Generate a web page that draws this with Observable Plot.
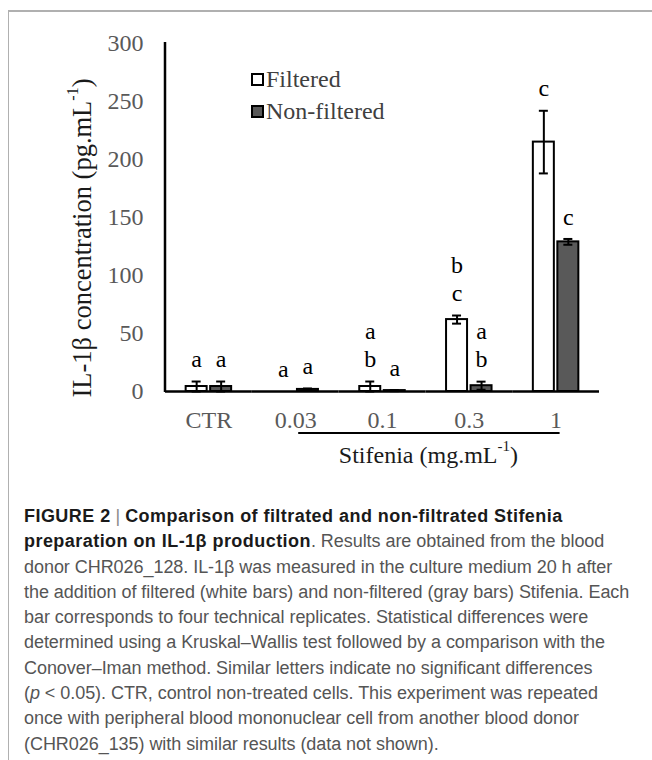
<!DOCTYPE html>
<html>
<head>
<meta charset="utf-8">
<script src="https://cdn.jsdelivr.net/npm/d3@7"></script>
<script src="https://cdn.jsdelivr.net/npm/@observablehq/plot@0.6"></script>
<style>
  html, body { margin: 0; padding: 0; background: #fff; }
  body { width: 652px; height: 760px; position: relative; overflow: hidden; }
  #frame { position: absolute; left: 8px; top: 10px; width: 700px; height: 800px;
           border-top: 2px solid #b0b0b0; border-left: 1.5px solid #b0b0b0; }
  #chart { position: absolute; left: 0; top: 0; }
  .legend { position: absolute; font-family: "Liberation Serif", "Times New Roman", serif;
            font-size: 24px; color: #404040; line-height: 1; white-space: nowrap; }
  .legend .sw { position: absolute; left: 0; width: 9px; height: 9px; border: 2px solid #000; }
  .legend span.t { position: absolute; left: 15px; top: -6px; }
  #caption { position: absolute; left: 24px; top: 504px; font-family: "Liberation Sans", Arial, sans-serif;
             font-size: 18px; line-height: 25.3px; color: #555; white-space: nowrap; letter-spacing: -0.05px; }
  #caption b { color: #1a1a1a; font-weight: bold; letter-spacing: 0.45px; }
  #caption .bar { color: #888; font-weight: normal; }
</style>
</head>
<body>
<div id="frame"></div>
<div id="chart"></div>
<div class="legend" style="left:251px; top:73px;"><div class="sw" style="background:#fff; top:0;"></div><span class="t">Filtered</span></div>
<div class="legend" style="left:251px; top:105px;"><div class="sw" style="background:#595959; top:0;"></div><span class="t">Non-filtered</span></div>
<div id="caption">
<div><b>FIGURE 2</b> <span class="bar">|</span> <b>Comparison of filtrated and non-filtrated Stifenia</b></div>
<div><b>preparation on IL-1β production</b>. Results are obtained from the blood</div>
<div>donor CHR026_128. IL-1β was measured in the culture medium 20 h after</div>
<div>the addition of filtered (white bars) and non-filtered (gray bars) Stifenia. Each</div>
<div>bar corresponds to four technical replicates. Statistical differences were</div>
<div>determined using a Kruskal–Wallis test followed by a comparison with the</div>
<div>Conover–Iman method. Similar letters indicate no significant differences</div>
<div>(<i>p</i> &lt; 0.05). CTR, control non-treated cells. This experiment was repeated</div>
<div>once with peripheral blood mononuclear cell from another blood donor</div>
<div>(CHR026_135) with similar results (data not shown).</div>
</div>
<script>
// ---- data ----
const categories = ["CTR", "0.03", "0.1", "0.3", "1"];
const seriesNames = ["Filtered", "Non-filtered"];
const filteredMean = [4.3, 0, 4.3, 62, 215];
const filteredErr = [4.3, 0, 4.3, 3.5, 27];
const nonFilteredMean = [4.3, 1.8, 0.8, 5, 129];
const nonFilteredErr = [4.3, 0.8, 0.5, 3.5, 2.5];
const filteredLetters = [["a"], ["a"], ["a", "b"], ["b", "c"], ["c"]];
const nonFilteredLetters = [["a"], ["a"], ["a"], ["a", "b"], ["c"]];
const yTicks = [0, 50, 100, 150, 200, 250, 300];
const yTitle = "IL-1β concentration (pg.mL";
const xTitle = "Stifenia (mg.mL";

// ---- derived tables ----
const rows = categories.flatMap((c, i) => [
  {cat: c, series: seriesNames[0], v: filteredMean[i], e: filteredErr[i], letters: filteredLetters[i]},
  {cat: c, series: seriesNames[1], v: nonFilteredMean[i], e: nonFilteredErr[i], letters: nonFilteredLetters[i]}
]);
const letterRows = rows.flatMap(r => r.letters.map((l, j) => ({...r, letter: l, level: r.letters.length - 1 - j})));

const W = 652, H = 480;
const chart = Plot.plot({
  width: W, height: H,
  marginLeft: 165, marginRight: 53, marginTop: 43, marginBottom: H - 391,
  style: {fontFamily: "'Liberation Serif', 'Times New Roman', serif", fontSize: "24px", color: "#595959", background: "transparent"},
  fx: {domain: categories, padding: 0, round: false, axis: "bottom", tickSize: 0, tickPadding: 19, label: null},
  x: {domain: seriesNames, paddingInner: 0.143, paddingOuter: 0.843, round: false, axis: null},
  y: {domain: [0, 300], ticks: yTicks, tickSize: 0, tickPadding: 22, label: null},
  marks: [
    Plot.barY(rows.filter(d => d.v > 0), {fx: "cat", x: "series", y: "v",
      fill: d => d.series === seriesNames[0] ? "#ffffff" : "#595959", stroke: "#000", strokeWidth: 2}),
    Plot.ruleX(rows.filter(d => d.e > 0), {fx: "cat", x: "series", y1: d => d.v - d.e, y2: d => d.v + d.e, stroke: "#000", strokeWidth: 2}),
    Plot.tickY(rows.filter(d => d.e > 0), {fx: "cat", x: "series", y: d => d.v + d.e, stroke: "#000", strokeWidth: 2, insetLeft: 6, insetRight: 6}),
    Plot.tickY(rows.filter(d => d.e > 0), {fx: "cat", x: "series", y: d => Math.max(0, d.v - d.e), stroke: "#000", strokeWidth: 2, insetLeft: 6, insetRight: 6}),
    Plot.ruleY([0], {stroke: "#000", strokeWidth: 2.5}),
    Plot.text(letterRows.filter(d => d.level === 0), {fx: "cat", x: "series", y: d => d.v + d.e, text: "letter", dy: -22, fill: "#000", fontSize: 24}),
    Plot.text(letterRows.filter(d => d.level === 1), {fx: "cat", x: "series", y: d => d.v + d.e, text: "letter", dy: -50, fill: "#000", fontSize: 24})
  ]
});
document.getElementById("chart").appendChild(chart);

// ---- annotations from the library's scales ----
const svg = d3.select(chart);
const ys = chart.scale("y");
const fxs = chart.scale("fx");
const fxBand = d3.scaleBand(fxs.domain, fxs.range).paddingInner(fxs.paddingInner || 0).paddingOuter(fxs.paddingOuter || 0);
const center = c => fxBand(c) + fxBand.bandwidth() / 2;
const yPix = v => ys.apply ? ys.apply(v) : d3.scaleLinear(ys.domain, ys.range)(v);
const x0 = fxs.range[0];

svg.append("line").attr("x1", x0).attr("x2", x0).attr("y1", yPix(300) - 1).attr("y2", yPix(0) + 1)
  .attr("stroke", "#000").attr("stroke-width", 2.5);

svg.append("line").attr("x1", center(categories[1]) + 3).attr("x2", center(categories[4]) + 4)
  .attr("y1", 433).attr("y2", 433).attr("stroke", "#000").attr("stroke-width", 2);

const xt = svg.append("text").attr("x", (center(categories[1]) + center(categories[4])) / 2 + 3).attr("y", 455)
  .attr("text-anchor", "middle").attr("dominant-baseline", "central").attr("fill", "#1a1a1a").attr("font-size", 24);
xt.append("tspan").text(xTitle);
xt.append("tspan").text("-1").attr("font-size", 15).attr("dy", -9);
xt.append("tspan").text(")").attr("dy", 9);

const yt = svg.append("text").attr("transform", `translate(82,${(yPix(300) + yPix(0)) / 2 + 21}) rotate(-90)`)
  .attr("text-anchor", "middle").attr("dominant-baseline", "central").attr("fill", "#1a1a1a").attr("font-size", 26.5);
yt.append("tspan").text(yTitle);
yt.append("tspan").text("-1").attr("font-size", 16).attr("dy", -10);
yt.append("tspan").text(")").attr("dy", 10);
</script>
</body>
</html>
